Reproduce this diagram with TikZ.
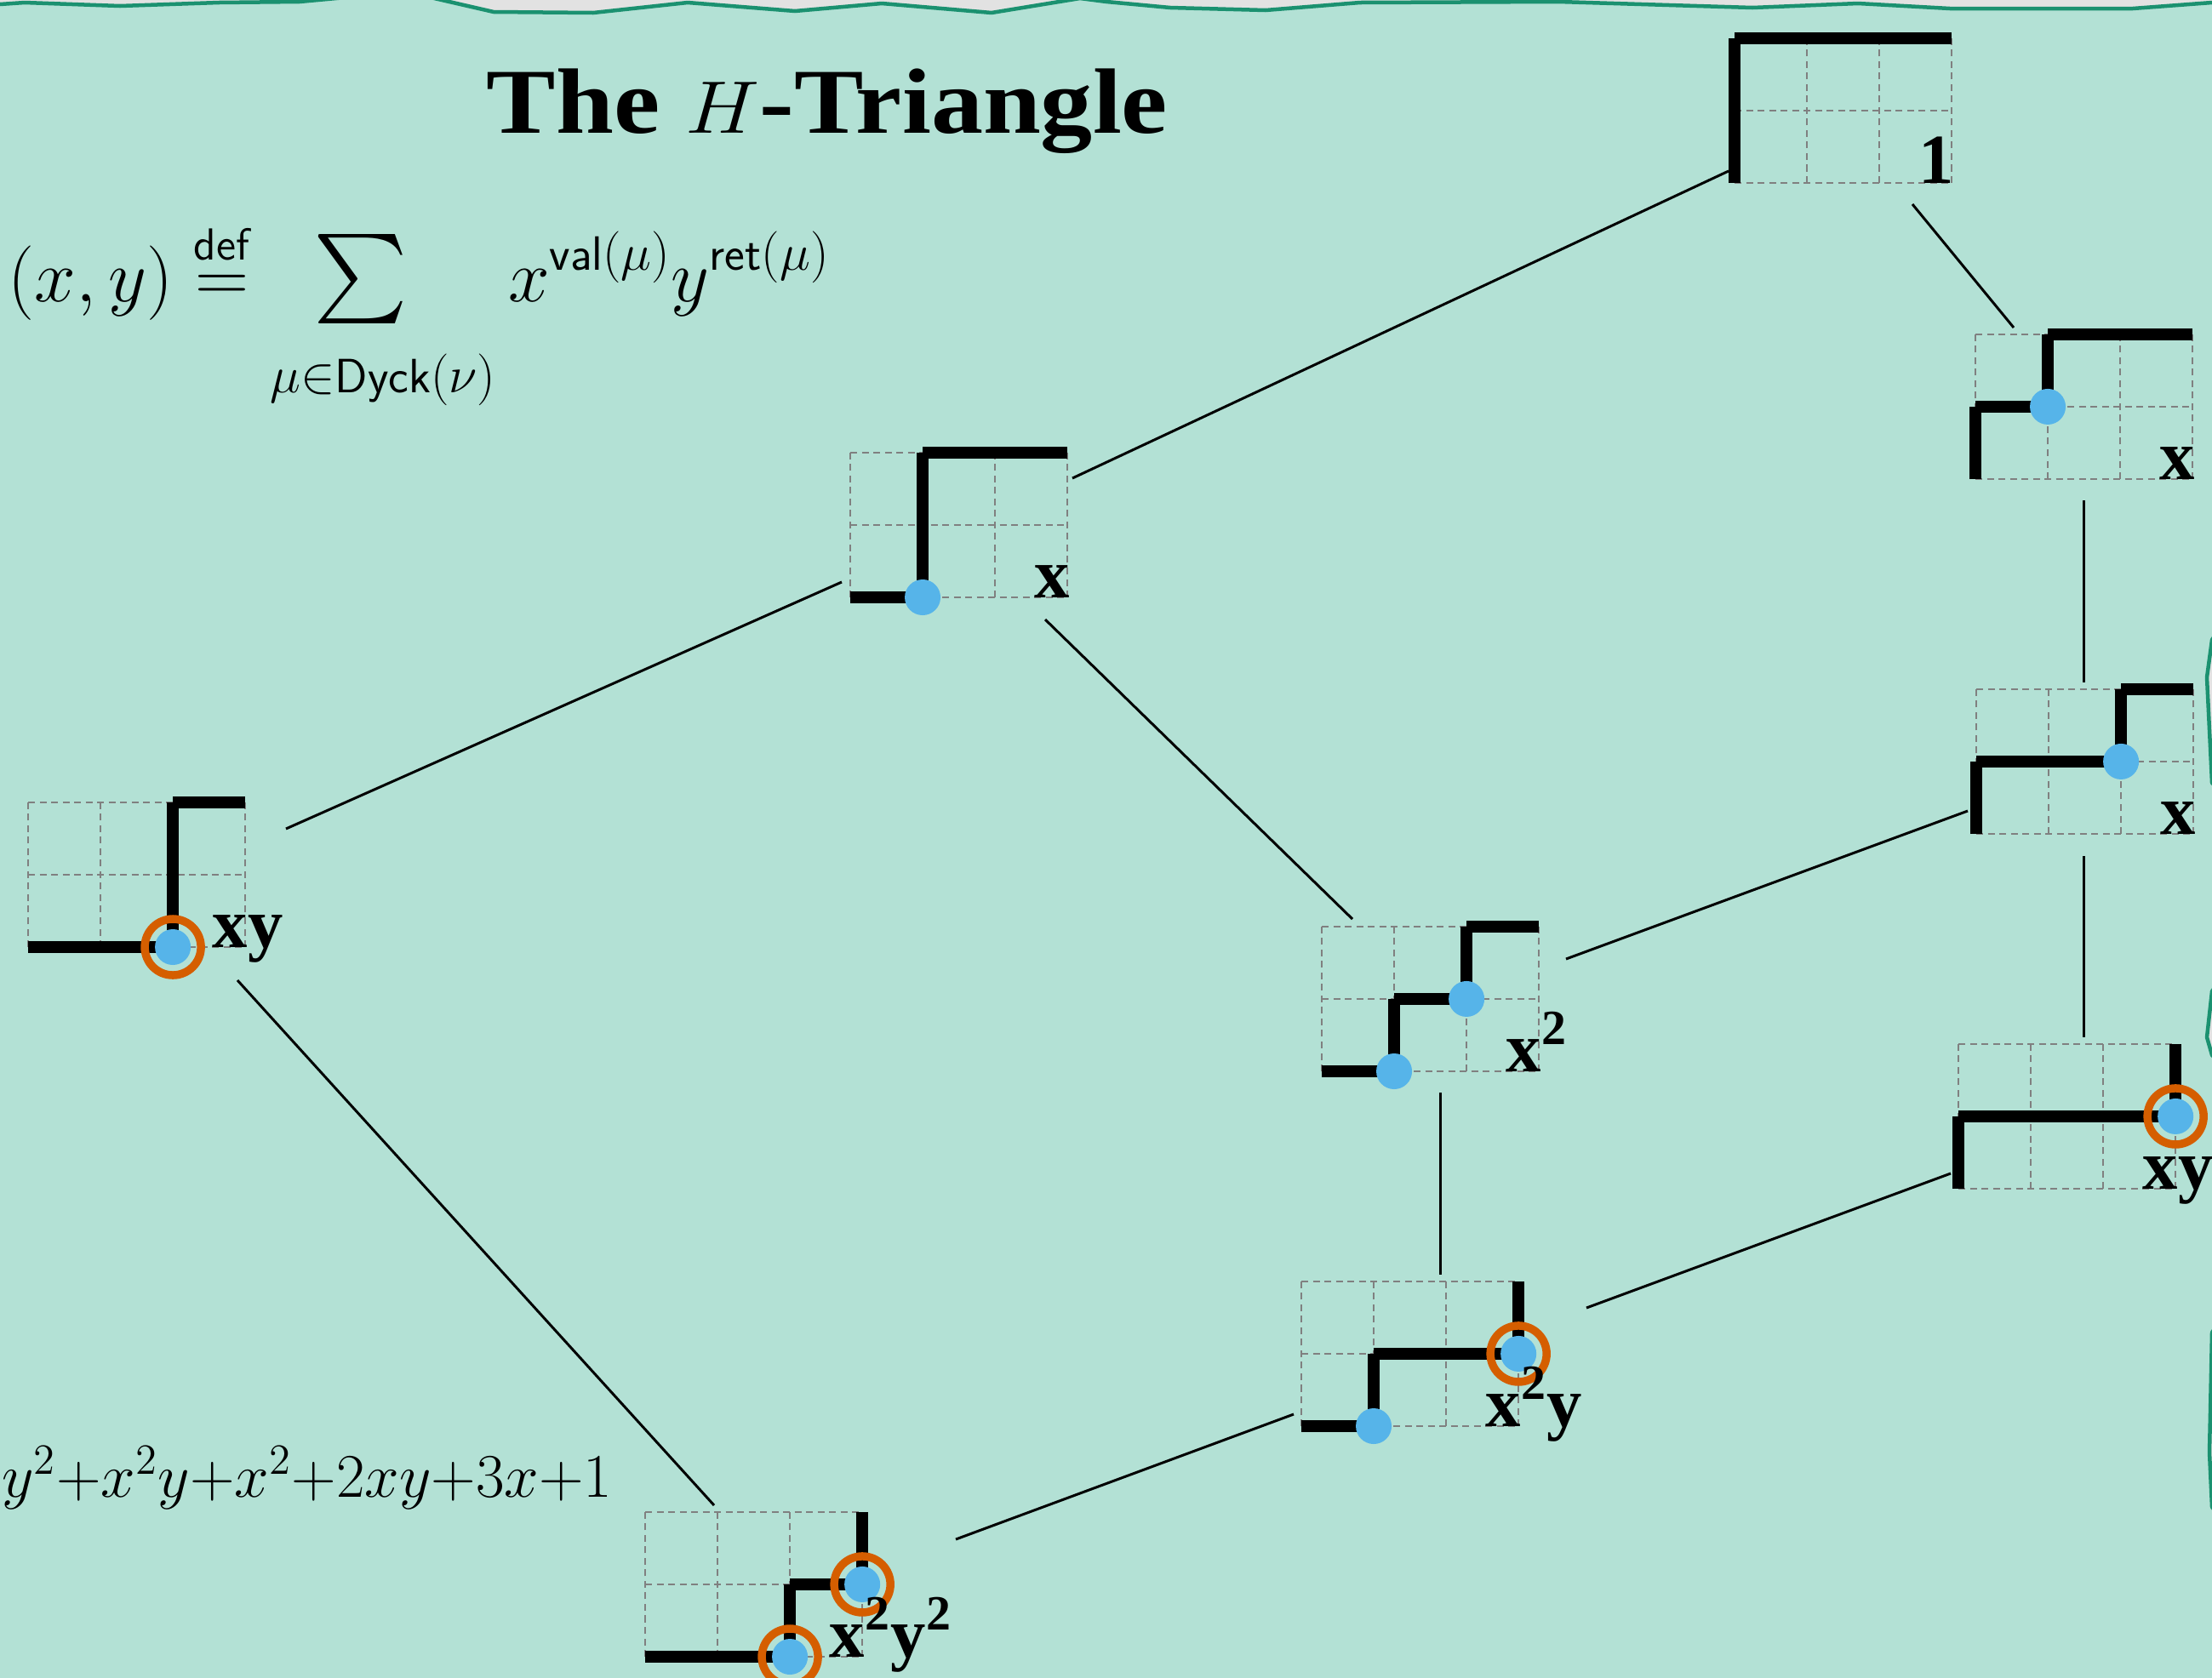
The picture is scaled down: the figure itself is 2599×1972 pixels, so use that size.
\documentclass[tikz,border=0pt]{standalone}
\usepackage{amsmath}
\usepackage{fontspec}
\setmainfont{Liberation Serif}
\definecolor{bgmint}{RGB}{179,225,213}
\definecolor{bggray}{RGB}{226,226,226}
\definecolor{edgegreen}{RGB}{27,145,112}
\definecolor{dotblue}{RGB}{86,180,233}
\definecolor{ringorange}{RGB}{213,94,0}
\definecolor{gridgray}{RGB}{128,128,128}
\tikzset{
  gridl/.style={draw=gridgray, line width=0.018cm, dash pattern=on 0.08cm off 0.055cm},
  dpath/.style={draw=black, line width=0.145cm},
  link/.style={draw=black, line width=0.03cm},
  dotc/.style={fill=dotblue},
  ringc/.style={draw=ringorange, line width=0.095cm},
  lab/.style={font=\fontsize{23.5}{28}\selectfont, inner sep=0pt, anchor=base west},
  edgeline/.style={draw=edgegreen, line width=0.045cm, line join=round}
}
\newcommand\dyckgrid[1]{%
  \foreach \i in {0,1,2,3} \draw[gridl] (\i,0) -- (\i,2);
  \foreach \j in {0,1,2} \draw[gridl] (0,\j) -- (3,\j);
  \foreach \a/\b/\c/\d in {#1} \draw[dpath] (\a,\b) -- (\c,\d);
}
\newcommand\bigsum{\mathop{\scalebox{1.2}{$\textstyle\sum$}}\limits}
\begin{document}
\begin{tikzpicture}[x=0.01cm, y=-0.01cm]
\useasboundingbox (0,0) rectangle (2599,1972);
\clip (0,0) rectangle (2599,1972);
\fill[bgmint] (-5,-5) rectangle (2605,1980);
% torn edges
\fill[bggray] (-10,-10) -- (-10,5) -- (0,5) -- (29,3) -- (141,7) -- (257,3) -- (352,2) -- (406,-3) -- (506,-3) -- (580,14) -- (697,15) -- (808,3) -- (934,13) -- (1036,4) -- (1165,15) -- (1269,-2) -- (1300,2) -- (1375,9) -- (1487,12) -- (1598,3) -- (1831,2) -- (2059,9) -- (2183,4) -- (2291,10) -- (2506,10) -- (2599,3) -- (2610,3) -- (2610,-10) -- cycle;
\draw[edgeline] (-10,5) -- (0,5) -- (29,3) -- (141,7) -- (257,3) -- (352,2) -- (406,-3) -- (506,-3) -- (580,14) -- (697,15) -- (808,3) -- (934,13) -- (1036,4) -- (1165,15) -- (1269,-2) -- (1300,2) -- (1375,9) -- (1487,12) -- (1598,3) -- (1831,2) -- (2059,9) -- (2183,4) -- (2291,10) -- (2506,10) -- (2599,3) -- (2610,3);
\fill[bggray] (2610,735) -- (2599,752) -- (2593,796) -- (2599,920) -- (2610,930) -- cycle;
\draw[edgeline] (2610,735) -- (2599,752) -- (2593,796) -- (2599,920) -- (2610,930);
\fill[bggray] (2610,1150) -- (2599,1165) -- (2593,1219) -- (2599,1240) -- (2610,1250) -- cycle;
\draw[edgeline] (2610,1150) -- (2599,1165) -- (2593,1219) -- (2599,1240) -- (2610,1250);
\fill[bggray] (2610,1550) -- (2599,1566) -- (2596,1707) -- (2599,1771) -- (2610,1785) -- cycle;
\draw[edgeline] (2610,1550) -- (2599,1566) -- (2596,1707) -- (2599,1771) -- (2610,1785);

% texts
\node[font=\fontsize{31}{37}\selectfont\bfseries, anchor=base west, inner sep=0pt] (title) at (571,156) {\scalebox{1.12}[1]{The $H$-Triangle}};
\node[font=\fontsize{23}{28}\selectfont, anchor=base west, inner sep=0pt] (defn) at (9,354)
  {$\displaystyle (x,y)\overset{\text{\fontsize{15}{15}\selectfont\sffamily def}}{=}\bigsum_{\rule{0pt}{0.83em}\mu\in\mathsf{Dyck}(\nu)} x^{\mathsf{val}(\mu)}y^{\mathsf{ret}(\mu)}$};
\node[font=\fontsize{20}{24}\selectfont, anchor=base east, inner sep=0pt] (poly) at (720,1759)
  {$y^2{+}x^2y{+}x^2{+}2xy{+}3x{+}1$};

% connector end points
\coordinate (T-sw) at (2031,201);  \coordinate (T-s) at (2247,240);
\coordinate (A-n) at (2366,385);   \coordinate (A-s) at (2448,588);
\coordinate (B-ne) at (1260,562);  \coordinate (B-w) at (989,684);  \coordinate (B-se) at (1228,728);
\coordinate (L-ne) at (336,974);   \coordinate (L-s) at (279,1152);
\coordinate (C-nw) at (1589,1080); \coordinate (C-e) at (1840,1127); \coordinate (C-s) at (1692,1284);
\coordinate (D-n) at (2448,802);   \coordinate (D-w) at (2312,953);  \coordinate (D-s) at (2448,1006);
\coordinate (E-n) at (2448,1219);  \coordinate (E-w) at (2292,1379);
\coordinate (F-n) at (1692,1498);  \coordinate (F-e) at (1864,1537); \coordinate (F-w) at (1520,1662);
\coordinate (G-n) at (839,1769);   \coordinate (G-e) at (1123,1809);

\draw[link] (T-sw) -- (B-ne);
\draw[link] (T-s) -- (A-n);
\draw[link] (B-w) -- (L-ne);
\draw[link] (B-se) -- (C-nw);
\draw[link] (A-s) -- (D-n);
\draw[link] (C-e) -- (D-w);
\draw[link] (D-s) -- (E-n);
\draw[link] (C-s) -- (F-n);
\draw[link] (E-w) -- (F-e);
\draw[link] (L-s) -- (G-n);
\draw[link] (F-w) -- (G-e);

% T : 1
\begin{scope}[shift={(2038,215)}, x=0.85cm, y=0.85cm]
  \dyckgrid{0/0/0/1,0/1/0/2,0/2/1/2,1/2/2/2,2/2/3/2}
  \node[lab] (T) at ([xshift=-0.39cm]3,0) {$\mathbf{1}$};
\end{scope}
% A : x
\begin{scope}[shift={(2321,563)}, x=0.85cm, y=0.85cm]
  \dyckgrid{0/0/0/1,0/1/1/1,1/1/1/2,1/2/2/2,2/2/3/2}
  \fill[dotc] (1,1) circle (0.21cm);
  \node[lab] (A) at ([xshift=-0.39cm]3,0) {$\mathbf{x}$};
\end{scope}
% B : x
\begin{scope}[shift={(999,702)}, x=0.85cm, y=0.85cm]
  \dyckgrid{0/0/1/0,1/0/1/1,1/1/1/2,1/2/2/2,2/2/3/2}
  \fill[dotc] (1,0) circle (0.21cm);
  \node[lab] (B) at ([xshift=-0.39cm]3,0) {$\mathbf{x}$};
\end{scope}
% L : xy
\begin{scope}[shift={(33,1113)}, x=0.85cm, y=0.85cm]
  \dyckgrid{0/0/1/0,1/0/2/0,2/0/2/1,2/1/2/2,2/2/3/2}
  \draw[ringc] (2,0) circle (0.33cm);
  \fill[dotc] (2,0) circle (0.21cm);
  \node[lab] (L) at ([xshift=-0.39cm]3,0) {$\mathbf{xy}$};
\end{scope}
% C : x^2
\begin{scope}[shift={(1553,1259)}, x=0.85cm, y=0.85cm]
  \dyckgrid{0/0/1/0,1/0/1/1,1/1/2/1,2/1/2/2,2/2/3/2}
  \fill[dotc] (1,0) circle (0.21cm);
  \fill[dotc] (2,1) circle (0.21cm);
  \node[lab] (C) at ([xshift=-0.39cm]3,0) {$\mathbf{x^2}$};
\end{scope}
% D : x
\begin{scope}[shift={(2322,980)}, x=0.85cm, y=0.85cm]
  \dyckgrid{0/0/0/1,0/1/1/1,1/1/2/1,2/1/2/2,2/2/3/2}
  \fill[dotc] (2,1) circle (0.21cm);
  \node[lab] (D) at ([xshift=-0.39cm]3,0) {$\mathbf{x}$};
\end{scope}
% E : xy
\begin{scope}[shift={(2301,1397)}, x=0.85cm, y=0.85cm]
  \dyckgrid{0/0/0/1,0/1/1/1,1/1/2/1,2/1/3/1,3/1/3/2}
  \draw[ringc] (3,1) circle (0.33cm);
  \fill[dotc] (3,1) circle (0.21cm);
  \node[lab] (E) at ([xshift=-0.39cm]3,0) {$\mathbf{xy}$};
\end{scope}
% F : x^2 y
\begin{scope}[shift={(1529,1676)}, x=0.85cm, y=0.85cm]
  \dyckgrid{0/0/1/0,1/0/1/1,1/1/2/1,2/1/3/1,3/1/3/2}
  \fill[dotc] (1,0) circle (0.21cm);
  \draw[ringc] (3,1) circle (0.33cm);
  \fill[dotc] (3,1) circle (0.21cm);
  \node[lab] (F) at ([xshift=-0.39cm]3,0) {$\mathbf{x^2y}$};
\end{scope}
% G : x^2 y^2
\begin{scope}[shift={(758,1947)}, x=0.85cm, y=0.85cm]
  \dyckgrid{0/0/1/0,1/0/2/0,2/0/2/1,2/1/3/1,3/1/3/2}
  \draw[ringc] (2,0) circle (0.33cm);
  \draw[ringc] (3,1) circle (0.33cm);
  \fill[dotc] (2,0) circle (0.21cm);
  \fill[dotc] (3,1) circle (0.21cm);
  \node[lab] (G) at ([xshift=-0.39cm]3,0) {$\mathbf{x^2y^2}$};
\end{scope}
\end{tikzpicture}
\end{document}
